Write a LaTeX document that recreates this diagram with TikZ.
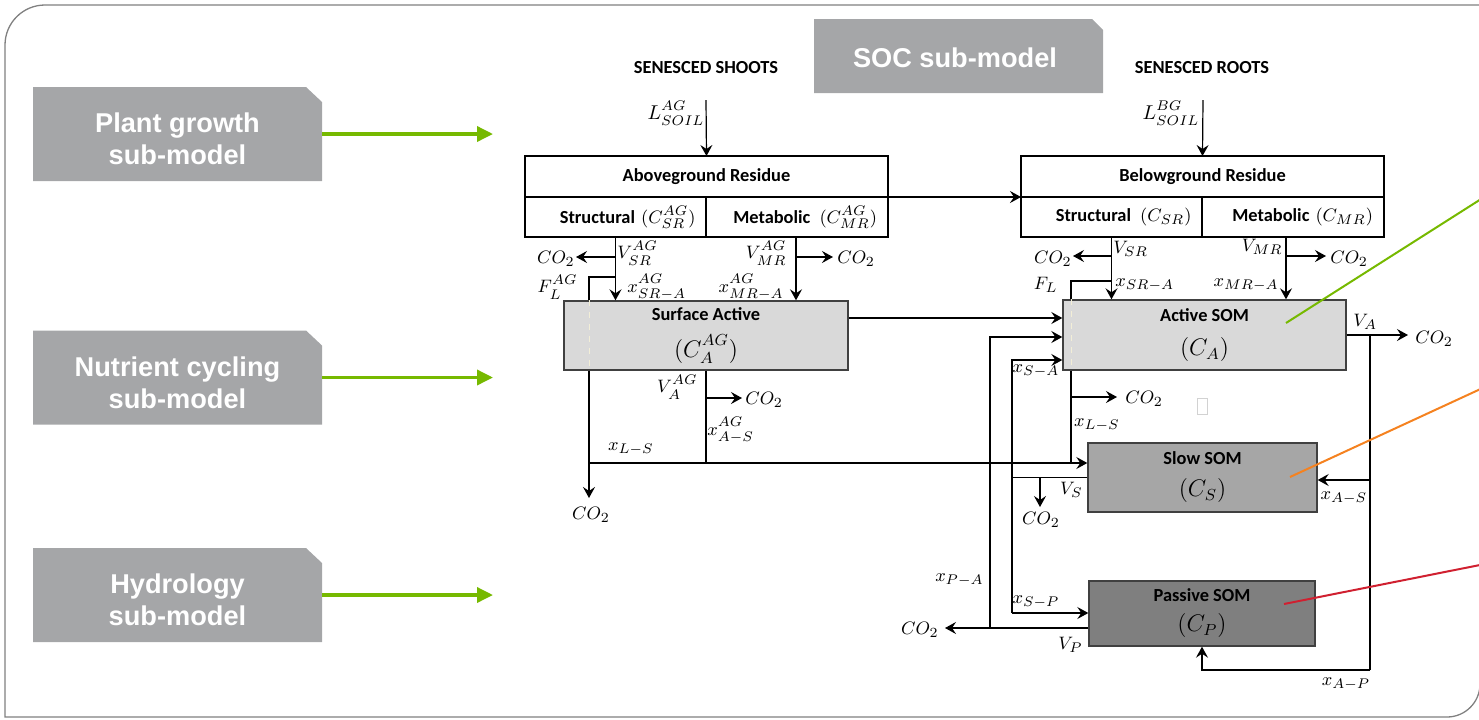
\documentclass[tikz,border=0pt]{standalone}
\usepackage[no-math]{fontspec}
\setmainfont{Carlito}
\newfontfamily\arialfont{Liberation Sans}
\usetikzlibrary{arrows.meta}

% larger scripts for the flux symbols
\DeclareMathSizes{9}{9}{7}{5}
\DeclareMathSizes{9.2}{9.2}{7.2}{5}
\DeclareMathSizes{10}{10}{7.5}{5}
\DeclareMathSizes{12}{12}{8.5}{6}

\definecolor{submodelgray}{RGB}{165,166,168}
\definecolor{leafgreen}{RGB}{118,185,0}
\definecolor{framegray}{RGB}{128,128,128}
\definecolor{activefill}{RGB}{217,217,217}
\definecolor{slowfill}{RGB}{166,166,166}
\definecolor{passivefill}{RGB}{127,127,127}
\definecolor{poolline}{RGB}{64,64,64}
\definecolor{slowline}{RGB}{245,130,32}
\definecolor{passiveline}{RGB}{208,32,48}
\definecolor{hidden}{RGB}{242,238,215}

\tikzset{
  submodel/.style={inner sep=0pt, outer sep=0pt, minimum width=144.5pt, minimum height=47pt},
  subtitle/.style={text=white, align=center, inner sep=0pt,
    font=\arialfont\bfseries\fontsize{13.6}{16}\selectfont},
  feed/.style={leafgreen, line width=1.75pt, -{Triangle[length=8pt,width=7.5pt]}},
  residue/.style={draw=black, line width=1.2pt, inner sep=0pt, outer sep=0pt, minimum height=20.5pt,
    font=\bfseries\fontsize{9.2}{11}\selectfont},
  cell/.style={residue, minimum height=20pt, text width=80pt, align=right},
  pool/.style={draw=poolline, line width=0.7pt, inner sep=0pt, align=center,
    font=\bfseries\fontsize{9.2}{11}\selectfont},
  flux/.style={line width=0.6pt, -{Stealth[length=5.5pt,width=6pt,inset=2pt]}},
  link/.style={line width=0.6pt},
  lbl/.style={inner sep=0pt, font=\fontsize{9}{10}\selectfont},
  callout/.style={line width=1pt},
}

% grey tab with its top right corner cut off
\newcommand{\tabfill}[3]{%
  \fill[submodelgray] (#1.south west) -- (#1.north west) -- ([xshift=-#2]#1.north east)
    -- ([yshift=-#3]#1.north east) -- (#1.south east) -- cycle;}
% aboveground superscript, kept clear of the subscript
\newcommand{\ag}{AG\vphantom{g}}

\begin{document}
\begin{tikzpicture}[x=0.5pt,y=-0.5pt]
\useasboundingbox (0,0) rectangle (1479,719);

% frame with two rounded corners
\draw[framegray, line width=0.65pt] (5,717) -- (5,300) [rounded corners=20pt] -- (5,5) -- (300,5)
  [sharp corners] -- (1480,5) -- (1480,300) [rounded corners=16.5pt] -- (1480,717) -- (1200,717)
  [sharp corners] -- cycle;

% the other sub-models feeding the SOC part
\foreach \name/\ypos/\title in {plant/134/Plant growth, nutrient/377.5/Nutrient cycling, hydro/595/Hydrology}{
  \node[submodel] (\name) at (177.5,\ypos) {};
  \tabfill{\name}{8pt}{7.5pt}
  \node[subtitle] (\name text) at (177.5,\ypos+5) {\title\\sub-model};
  \coordinate (\name end) at (493,\ypos);
  \draw[feed] (\name.east) -- (\name end);
}
\node[submodel, minimum height=37pt] (soc) at (958.5,56) {};
\tabfill{soc}{5.5pt}{5.5pt}
\node[subtitle] (soctext) at (955,58) {SOC sub-model};

% residue pools
\node[font=\bfseries\fontsize{9.2}{11}\selectfont] (shoots) at (706,68) {SENESCED SHOOTS};
\node[font=\bfseries\fontsize{9.2}{11}\selectfont] (roots) at (1202,68) {SENESCED ROOTS};
\coordinate (shootin) at (706,100);
\coordinate (rootin) at (1203,100);

\node[residue, minimum width=181.5pt] (agtitle) at (706.5,176.5) {Aboveground Residue};
\node[cell, minimum width=90.5pt, anchor=north west] (agstruct) at (agtitle.south west) {Structural $(C^{AG}_{SR})$};
\node[cell, minimum width=91pt, anchor=north east] (agmeta) at (agtitle.south east) {Metabolic\enspace$(C^{AG}_{MR})$};

\node[residue, minimum width=181.5pt] (bgtitle) at (1202.5,176.5) {Belowground Residue};
\node[cell, minimum width=90.5pt, anchor=north west] (bgstruct) at (bgtitle.south west) {Structural\enspace$(C_{SR})$};
\node[cell, minimum width=91pt, anchor=north east] (bgmeta) at (bgtitle.south east) {Metabolic $(C_{MR})$};

% SOM pools
\node[pool, fill=activefill, minimum width=142pt, minimum height=34.5pt] (sa) at (706,335.5)
  {Surface Active\\[6pt]{\fontsize{12}{14}\selectfont$(C^{\ag}_{A})$}};
\node[pool, fill=activefill, minimum width=141.5pt, minimum height=35pt] (as) at (1204.5,335)
  {Active SOM\\[6pt]{\fontsize{12}{14}\selectfont$(C_A)$}};
\node[pool, fill=slowfill, minimum width=114.5pt, minimum height=34.5pt] (ss) at (1202.5,477.5)
  {Slow SOM\\[5pt]{\fontsize{12}{14}\selectfont$(C_S)$}};
\node[pool, fill=passivefill, minimum width=113pt, minimum height=32.5pt] (ps) at (1202,613.5)
  {Passive SOM\\[4pt]{\fontsize{12}{14}\selectfont$(C_P)$}};

% inputs
\draw[flux] (shootin) -- (agtitle.north);
\draw[flux] (rootin) -- (bgtitle.north);
\draw[flux] (agtitle.south east) -- (bgtitle.south west);

% aboveground fluxes
\coordinate (agsr) at (615,257);
\coordinate (agco2a) at (576,257);
\coordinate (agfl) at (615,277);
\coordinate (agflx) at (589,277);
\coordinate (agco2c) at (589,498);
\coordinate (agvmr) at (796,257);
\coordinate (agco2b) at (833,257);
\coordinate (agva) at (706,398);
\coordinate (agco2d) at (742,398);
\coordinate (lsl) at (589,463);

\draw[flux] (agstruct.south) -- (agstruct.south |- sa.north);
\draw[flux] (agsr) -- (agco2a);
\draw[link] (agfl) -- (agflx) -- (agflx |- sa.north);
\draw[hidden, dashed, line width=0.4pt] (agflx |- sa.north) -- (agflx |- sa.south);
\draw[flux] (agflx |- sa.south) -- (agco2c);
\draw[flux] (agvmr |- agmeta.south) -- (agvmr |- sa.north);
\draw[flux] (agvmr) -- (agco2b);
\draw[link] (sa.south) -- (sa.south |- lsl);
\draw[flux] (agva) -- (agco2d);
\draw[flux] (lsl) -- (lsl -| ss.west);
\draw[flux] ([yshift=8.75pt]sa.east) -- ([yshift=8.75pt]sa.east -| as.west);

% belowground fluxes
\coordinate (bgsr) at (1111,256);
\coordinate (bgco2a) at (1073,256);
\coordinate (bgfl) at (1111,281);
\coordinate (bgflx) at (1071,281);
\coordinate (bgflb) at (1071,397);
\coordinate (bgco2c) at (1117,397);
\coordinate (bgvmr) at (1286,256);
\coordinate (bgco2b) at (1326,256);

\draw[flux] (bgstruct.south) -- (bgstruct.south |- as.north);
\draw[flux] (bgsr) -- (bgco2a);
\draw[link] (bgfl) -- (bgflx) -- (bgflx |- as.north);
\draw[hidden, dashed, line width=0.4pt] (bgflx |- as.north) -- (bgflx |- as.south);
\draw[link] (bgflx |- as.south) -- (bgflx |- lsl);
\draw[flux] (bgflb) -- (bgco2c);
\draw[flux] (bgvmr |- bgmeta.south) -- (bgvmr |- as.north);
\draw[flux] (bgvmr) -- (bgco2b);

% active, slow and passive exchanges
\coordinate (vaout) at (1408,335);
\coordinate (rtop) at (1370,335);
\coordinate (ras) at (1370,480);
\coordinate (rbot) at (1370,670);
\coordinate (pa) at (990,628);
\coordinate (pat) at (990,337);
\coordinate (sat) at (1012,360);
\coordinate (sp) at (1012,613);
\coordinate (pco2) at (945,628);
\coordinate (vsb) at (1040,477.5);
\coordinate (sco2) at (1040,507);

\draw[flux] (as.east) -- (vaout);
\draw[link] (rtop) -- (rbot);
\draw[flux] (ras) -- (ras -| ss.east);
\draw[flux] (rbot) -- (rbot -| ps.south) -- (ps.south);
\draw[flux] (ps.west |- pa) -- (pco2);
\draw[flux] (pa) -- (pat) -- (pat -| as.west);
\draw[flux] (sp) -- (sat) -- (sat -| as.west);
\draw[flux] (sp) -- (sp -| ps.west);
\draw[link] (ss.west) -- (ss.west -| sp);
\draw[flux] (vsb) -- (sco2);
\draw[gray!35, line width=0.4pt] (1197,398) rectangle (1207,414);

% labels
\node[lbl, font=\fontsize{10}{11}\selectfont] (lag) at (676,113) {$L^{\ag}_{SOIL}$};
\node[lbl, font=\fontsize{10}{11}\selectfont] (lbg) at (1171,113) {$L^{BG\vphantom{g}}_{SOIL}$};
% CO2 sinks, right of their arrows
\foreach \cname/\cpos in {co2b/{(837,259)}, co2c/{(745,400)}, co2f/{(1330,259)},
    co2g/{(1415,339)}, co2h/{(1125,399)}}
  \node[lbl, anchor=west] (\cname) at \cpos {$CO_2$};
% and left of them
\foreach \cname/\cpos in {co2a/{(575,259)}, co2e/{(1072,259)}, co2j/{(939,630)}}
  \node[lbl, anchor=east] (\cname) at \cpos {$CO_2$};
\node[lbl] (co2d) at (591,515) {$CO_2$};
\node[lbl] (co2i) at (1041,520) {$CO_2$};

\node[lbl, anchor=west] (vsrag) at (617,253) {$V^{\ag}_{SR}$};
\node[lbl, anchor=east] (flag) at (578,287) {$F^{\ag}_L$};
\node[lbl, anchor=west] (xsrag) at (627,287) {$x^{\ag}_{SR-A}$};
\node[lbl, anchor=east] (vmrag) at (787,253) {$V^{\ag}_{MR}$};
\node[lbl, anchor=east] (xmrag) at (784,287) {$x^{\ag}_{MR-A}$};
\node[lbl, anchor=east] (vaag) at (698,387) {$V^{\ag}_A$};
\node[lbl, anchor=west] (xasag) at (707,430) {$x^{\ag}_{A-S}$};
\node[lbl] (xlsag) at (631,449) {$x_{L-S}$};
\node[lbl, anchor=west] (vsr) at (1113,249) {$V_{SR}$};
\node[lbl, anchor=east] (fl) at (1058,285) {$F_L$};
\node[lbl, anchor=west] (xsr) at (1115,285) {$x_{SR-A}$};
\node[lbl, anchor=east] (vmr) at (1283,247) {$V_{MR}$};
\node[lbl, anchor=east] (xmr) at (1279,285) {$x_{MR-A}$};
\node[lbl, anchor=west] (va) at (1353,322) {$V_A$};
\node[lbl] (xsa) at (1036,371) {$x_{S-A}$};
\node[lbl] (xls) at (1097,425) {$x_{L-S}$};
\node[lbl, anchor=east] (vs) at (1083,490) {$V_S$};
\node[lbl] (xas) at (1344,498) {$x_{A-S}$};
\node[lbl, anchor=east] (xpa) at (984,580) {$x_{P-A}$};
\node[lbl] (xsp) at (1036,602) {$x_{S-P}$};
\node[lbl, anchor=east] (vp) at (1083,645) {$V_P$};
\node[lbl] (xap) at (1346,684) {$x_{A-P}$};

% pointers to the pools
\draw[callout, leafgreen] (1286,323) -- (1500,187);
\draw[callout, slowline] (1290,477) -- (1500,380);
\draw[callout, passiveline] (1284,604) -- (1500,561);
\end{tikzpicture}
\end{document}
